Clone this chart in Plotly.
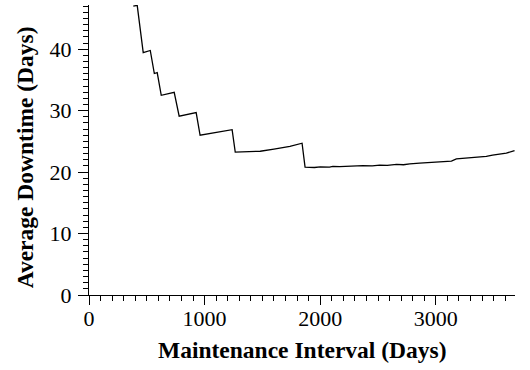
import plotly.graph_objects as go

interval_days = [383, 417, 469, 530, 565, 590, 625, 680, 737, 780, 850, 927, 961,
                 1100, 1238, 1265, 1481, 1600, 1738, 1843, 1869, 1950, 2000, 2080,
                 2110, 2168, 2256, 2300, 2369, 2450, 2515, 2580, 2660, 2720, 2775,
                 2860, 2947, 3005, 3080, 3135, 3178, 3250, 3320, 3437, 3491, 3552,
                 3610, 3681]
avg_downtime = [47.0, 47.15, 39.45, 39.8, 36.05, 36.2, 32.5, 32.7, 33.0, 29.1, 29.35,
                29.7, 26.0, 26.4, 26.9, 23.25, 23.4, 23.75, 24.2, 24.7, 20.8, 20.75,
                20.85, 20.8, 20.95, 20.9, 21.0, 20.95, 21.05, 21.0, 21.15, 21.1, 21.25,
                21.2, 21.35, 21.45, 21.55, 21.6, 21.7, 21.8, 22.15, 22.25, 22.35, 22.55,
                22.75, 22.95, 23.1, 23.5]

x_ticks = [0, 1000, 2000, 3000]
y_ticks = [0, 10, 20, 30, 40]

font_family = "Liberation Serif, Times New Roman, DejaVu Serif, serif"

fig = go.Figure()
fig.add_trace(go.Scatter(x=interval_days, y=avg_downtime, mode="lines",
                         line=dict(color="black", width=1.3), showlegend=False))

fig.update_layout(
    width=530, height=370,
    margin=dict(l=89, r=15, t=5, b=75, pad=0),
    paper_bgcolor="white", plot_bgcolor="white",
    font=dict(family=font_family, size=22, color="black"),
)
fig.update_xaxes(
    range=[0, 3685], tickvals=x_ticks, ticktext=[str(v) for v in x_ticks],
    automargin=False,
    showgrid=False, zeroline=False, showline=True, linecolor="black", linewidth=1.3,
    ticks="outside", ticklen=9, tickwidth=1.3, tickcolor="black",
    ticklabelstandoff=-6,
    minor=dict(dtick=100, ticks="outside", ticklen=5, tickwidth=1, tickcolor="black", showgrid=False),
    tickfont=dict(family=font_family, size=22),
)
fig.update_yaxes(
    range=[0, 47.2], tickvals=y_ticks, ticktext=[str(v) for v in y_ticks],
    automargin=False,
    showgrid=False, zeroline=False, showline=True, linecolor="black", linewidth=1.3,
    ticks="outside", ticklen=10, tickwidth=1.3, tickcolor="black",
    ticklabelstandoff=2,
    minor=dict(dtick=1, ticks="outside", ticklen=5, tickwidth=1, tickcolor="black", showgrid=False),
    tickfont=dict(family=font_family, size=22),
)
fig.add_annotation(text="<b>Maintenance Interval (Days)</b>", xref="paper", yref="paper",
                   x=0.5, y=-0.19, xanchor="center", yanchor="middle", showarrow=False,
                   font=dict(family=font_family, size=23.5))
fig.add_annotation(text="<b>Average Downtime (Days)</b>", xref="paper", yref="paper",
                   x=-0.15, y=0.475, xanchor="center", yanchor="middle", showarrow=False,
                   textangle=-90, font=dict(family=font_family, size=23.5))

fig.write_html("out.html", config={"displayModeBar": False},
               post_script="document.body.style.margin='0';")
